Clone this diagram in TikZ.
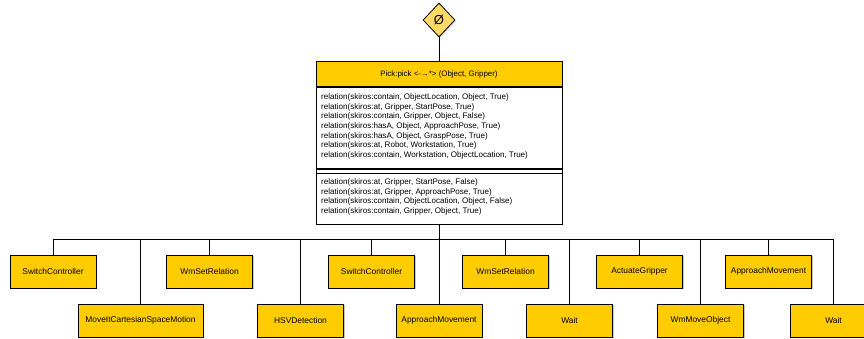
\documentclass[tikz,border=0pt]{standalone}
\usepackage{fontspec}
\setmainfont{Liberation Sans}
\usepackage{tikz}
\usetikzlibrary{calc,arrows,positioning,shapes.geometric,shadows}

\definecolor{Gold}{HTML}{FFCC00}
\definecolor{LightGold}{HTML}{FFD966}

\begin{document}
\begin{tikzpicture}[x=1pt,y=-1pt]

  % Styles
  \tikzstyle{task}=[draw,thick,fill=Gold,text centered,minimum height=33pt,inner sep=0pt,
    font=\fontsize{8.4}{10}\selectfont,drop shadow={shadow xshift=1.2pt,shadow yshift=-1.2pt,opacity=0.45}]
  \tikzstyle{part}=[draw,line width=1pt,minimum width=246pt,inner sep=0pt,anchor=north,
    font=\fontsize{7.9}{9.55}\selectfont]
  \tikzstyle{rels}=[align=left,anchor=west,inner sep=0pt,font=\fontsize{8.05}{9.55}\selectfont]
  \tikzstyle{wire}=[line width=0.8pt]

  % \task{<width>}{<id>}{<label>}
  \newcommand{\task}[3]{node[task,minimum width=#1] (#2) {#3}}

  % ===========================================================================

  \useasboundingbox (0,0) rectangle (864,338);

  % Start state
  \node[diamond,draw,thick,fill=LightGold,minimum width=32pt,minimum height=34pt,inner sep=0pt,
    drop shadow={shadow xshift=1pt,shadow yshift=-1pt,opacity=0.4}] (start) at (439,20)
    {\fontsize{13}{13}\selectfont Ø};

  % Skill box
  \node[part,fill=Gold,minimum height=25pt,drop shadow={shadow xshift=1.2pt,shadow yshift=-1.2pt,opacity=0.45}]
    (pick) at (439,61) {Pick:pick <-→*> (Object, Gripper)};
  \node[part,fill=white,minimum height=81pt] (pre) at (pick.south) {};
  \node[part,fill=white,minimum height=55pt] (post) at (pre.south) {};
  \draw[line width=1pt] ($(pre.south west)+(0,4)$) -- ($(pre.south east)+(0,4)$);
  \node[rels] (pretext) at (321,126.4) {%
    relation(skiros:contain, ObjectLocation, Object, True)\\
    relation(skiros:at, Gripper, StartPose, True)\\
    relation(skiros:contain, Gripper, Object, False)\\
    relation(skiros:hasA, Object, ApproachPose, True)\\
    relation(skiros:hasA, Object, GraspPose, True)\\
    relation(skiros:at, Robot, Workstation, True)\\
    relation(skiros:contain, Workstation, ObjectLocation, True)};
  \node[rels] (posttext) at (321,196.7) {%
    relation(skiros:at, Gripper, StartPose, False)\\
    relation(skiros:at, Gripper, ApproachPose, True)\\
    relation(skiros:contain, ObjectLocation, Object, False)\\
    relation(skiros:contain, Gripper, Object, True)};

  % Draw blocks
  \path (53,271.5)    \task{86pt}{sc1}{SwitchController};
  \path (140.5,320.5) \task{125pt}{move}{MoveItCartesianSpaceMotion};
  \path (209.5,271.5) \task{86pt}{wm1}{WmSetRelation};
  \path (300.5,320.5) \task{86pt}{hsv}{HSVDetection};
  \path (371.5,271.5) \task{86pt}{sc2}{SwitchController};
  \path (439,320.5)   \task{86pt}{app1}{ApproachMovement};
  \path (505.5,271.5) \task{86pt}{wm2}{WmSetRelation};
  \path (569.5,320.5) \task{86pt}{wait1}{Wait};
  \path (639.5,271.5) \task{86pt}{act}{ActuateGripper};
  \path (700.5,320.5) \task{86pt}{wmo}{WmMoveObject};
  \path (768.5,271.5) \task{86pt}{app2}{ApproachMovement};
  \path (833.5,320.5) \task{86pt}{wait2}{Wait};

  % Draw arrows
  \coordinate (bus) at (439,239);
  \draw[wire] (start.south) -- (pick.north);
  \draw[wire] (post.south) -- (app1.north);
  \foreach \t in {sc1,move,wm1,hsv,sc2,wm2,wait1,act,wmo,app2,wait2}
    \draw[wire] (bus) -| (\t.north);

\end{tikzpicture}
\end{document}
